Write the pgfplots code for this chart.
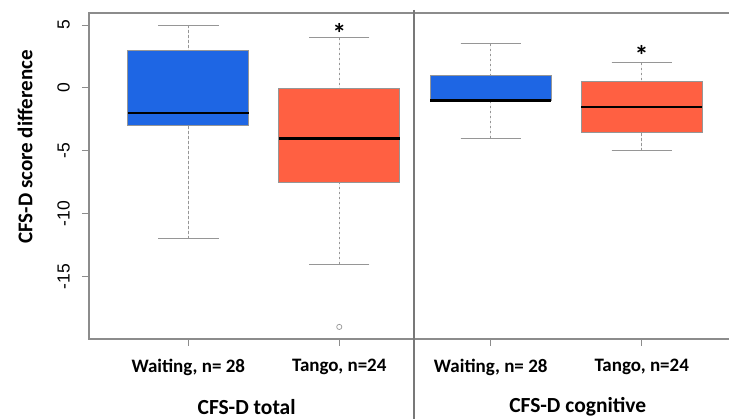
\documentclass[border=0pt]{standalone}
\usepackage{pgfplots}
\pgfplotsset{compat=1.18}
\usepgfplotslibrary{statistics}
\usepackage{fontspec}
\setmainfont{Carlito}
\newfontfamily\arialf{Liberation Sans}
\definecolor{rblue}{RGB}{30,102,228}
\definecolor{rred}{RGB}{255,96,66}
\definecolor{axgray}{RGB}{140,140,140}
\definecolor{divgray}{RGB}{120,120,120}
\definecolor{whgray}{RGB}{150,150,150}

\pgfplotsset{
  rbox/.style={
    boxplot/draw direction=y,
    boxplot/box extend=0.8,
    boxplot/whisker extend=0.4,
    boxplot/every box/.style={draw=whgray, line width=0.9pt},
    boxplot/every median/.style={black, line width=2.6pt},
    boxplot/draw/lower whisker/.code={%
      \draw[whgray, line width=0.8pt, dash pattern=on 2.5pt off 2.5pt]
        (boxplot box cs:\pgfplotsboxplotvalue{lower whisker},0.5) --
        (boxplot box cs:\pgfplotsboxplotvalue{lower quartile},0.5);
      \draw[whgray, line width=1pt]
        (boxplot whisker cs:\pgfplotsboxplotvalue{lower whisker},0) --
        (boxplot whisker cs:\pgfplotsboxplotvalue{lower whisker},1);
    },
    boxplot/draw/upper whisker/.code={%
      \draw[whgray, line width=0.8pt, dash pattern=on 2.5pt off 2.5pt]
        (boxplot box cs:\pgfplotsboxplotvalue{upper whisker},0.5) --
        (boxplot box cs:\pgfplotsboxplotvalue{upper quartile},0.5);
      \draw[whgray, line width=1pt]
        (boxplot whisker cs:\pgfplotsboxplotvalue{upper whisker},0) --
        (boxplot whisker cs:\pgfplotsboxplotvalue{upper whisker},1);
    },
    mark=o, mark size=2.6pt, mark options={draw=whgray, line width=0.7pt, fill=white},
  },
  panel/.style={
    scale only axis,
    height=326pt,
    ymin=-19.96, ymax=5.96,
    axis line style={axgray, line width=1.3pt},
    tick style={axgray, line width=1pt},
    major tick length=7pt,
    tick align=outside,
    xtick pos=lower, ytick pos=left,
    xtick={1,2},
    xticklabels={{Waiting, n= 28},{Tango, n=24}},
    xticklabel style={font=\bfseries\fontsize{19}{22}\selectfont, text=black, yshift=-10pt},
    clip=false,
  },
}

\begin{document}
\begin{tikzpicture}
\useasboundingbox (0,0) rectangle (729pt,419pt);

% Left panel: CFS-D total
\begin{axis}[panel,
  at={(89pt,80pt)}, anchor=south west,
  width=325pt,
  xmin=0.342, xmax=2.495,
  ytick={-15,-10,-5,0,5},
  yticklabels={-15,-10,-5,0,5},
  yticklabel style={rotate=90, anchor=south, inner sep=0pt, yshift=12pt,
    font=\arialf\fontsize{17.5}{17.5}\selectfont, text=black},
  ylabel={CFS-D score difference},
  every axis y label/.style={at={(rel axis cs:-0.197,0.589)}, rotate=90, anchor=center,
    font=\bfseries\fontsize{21}{24}\selectfont},
  xlabel={CFS-D total},
  every axis x label/.style={at={(rel axis cs:0.485,0)}, anchor=center, yshift=-67.7pt,
    font=\bfseries\fontsize{21.5}{24}\selectfont},
]
\addplot[rbox, fill=rblue, boxplot prepared={draw position=1,
  lower whisker=-12, lower quartile=-3, median=-2, upper quartile=3, upper whisker=5}]
  coordinates {};
\addplot[rbox, fill=rred, boxplot prepared={draw position=2,
  lower whisker=-14, lower quartile=-7.55, median=-4, upper quartile=0, upper whisker=4}]
  table[row sep=\\, y index=0] {-19\\};
\node[font=\bfseries\fontsize{28}{28}\selectfont] at (axis cs:2,4.3) {*};
\end{axis}

% Right panel: CFS-D cognitive
\begin{axis}[panel,
  at={(414pt,80pt)}, anchor=south west,
  width=315pt,
  xmin=0.492, xmax=2.578,
  axis x line*=box, axis y line*=left,
  ytick=\empty,
  xlabel={CFS-D cognitive},
  every axis x label/.style={at={(rel axis cs:0.52,0)}, anchor=center, yshift=-67.7pt,
    font=\bfseries\fontsize{21.5}{24}\selectfont},
]
\addplot[rbox, fill=rblue, boxplot prepared={draw position=1,
  lower whisker=-4, lower quartile=-1, median=-1, upper quartile=1, upper whisker=3.5}]
  coordinates {};
\addplot[rbox, fill=rred, boxplot prepared={draw position=2,
  lower whisker=-5, lower quartile=-3.5, median=-1.5, upper quartile=0.5, upper whisker=2}]
  coordinates {};
\node[font=\bfseries\fontsize{28}{28}\selectfont] at (axis cs:2,2.6) {*};
\end{axis}

\draw[divgray, line width=2pt] (414pt,409pt) -- (414pt,0pt);
\end{tikzpicture}
\end{document}
